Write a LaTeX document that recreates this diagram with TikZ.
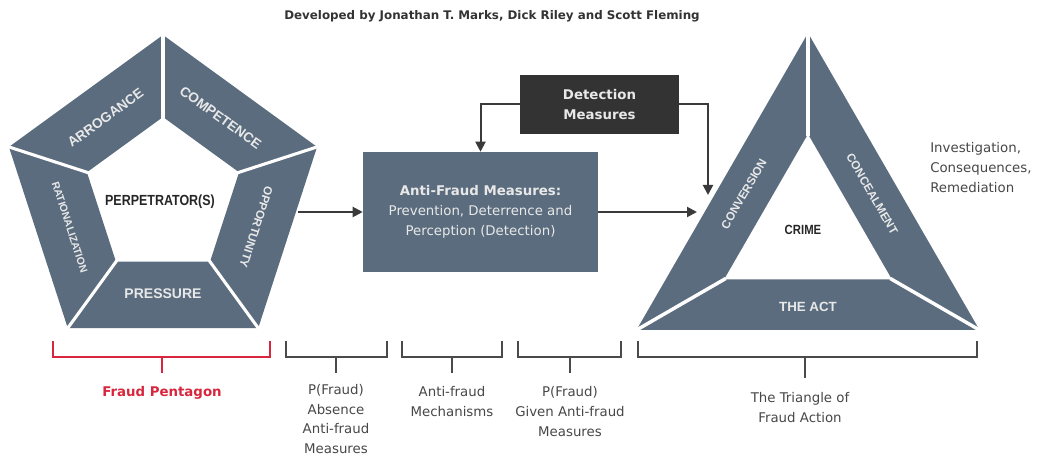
\documentclass[tikz,border=0pt]{standalone}
\usepackage{fontspec}
\setmainfont{DejaVu Sans}
\newfontfamily\segfont{Liberation Sans}
\newfontfamily\narrowfont{Liberation Sans}[FakeStretch=0.85]
\usetikzlibrary{arrows.meta,calc}
\definecolor{seg}{HTML}{5A6C7E}
\definecolor{darkbox}{HTML}{333333}
\definecolor{ltxt}{HTML}{E8E8E8}
\definecolor{gtxt}{HTML}{474747}
\definecolor{redc}{HTML}{D7263D}
\definecolor{linec}{HTML}{3A3A3A}
\definecolor{brkc}{HTML}{4A4A4A}
\begin{document}
\begin{tikzpicture}[x=0.75pt,y=0.75pt,
  seglabel/.style={text=ltxt,inner sep=0pt},
  segA/.style={seglabel,font=\segfont\bfseries\fontsize{10.3}{12}\selectfont},
  segB/.style={seglabel,font=\segfont\bfseries\fontsize{8.8}{10}\selectfont},
  segC/.style={seglabel,font=\segfont\bfseries\fontsize{7.9}{9}\selectfont},
  centerlabel/.style={text=black!85,inner sep=0pt,font=\narrowfont\bfseries\fontsize{11}{13}\selectfont},
  arr/.style={draw=linec,line width=1.5pt,-{Triangle[length=7.5pt,width=7.5pt]}},
  brk/.style={draw=brkc,line width=1.5pt},
  redbrk/.style={draw=redc,line width=1.5pt},
  body/.style={text=gtxt,align=center,inner sep=0pt,font=\fontsize{10}{15}\selectfont},
  gap/.style={draw=white,line width=2.3pt},
]
\useasboundingbox (0,0) rectangle (1040,457);

% title
\node[text=black!80,font=\bfseries\fontsize{8.9}{10}\selectfont] (title) at (492,441)
  {Developed by Jonathan T. Marks, Dick Riley and Scott Fleming};

% pentagon
\begin{scope}[shift={(163,260)}]
  \fill[seg,even odd rule] (90:162)--(162:162)--(234:162)--(306:162)--(18:162)--cycle
     (90:80)--(162:80)--(234:80)--(306:80)--(18:80)--cycle;
  \foreach \a in {90,162,234,306,18} \draw[gap] (\a:78)--(\a:166);
  \node[segA,rotate=36] (arrog) at (126:98) {ARROGANCE};
  \node[segA,rotate=-36] (compet) at (54:98) {COMPETENCE};
  \node[segB,rotate=-108] (oppor) at (-18:98) {OPPORTUNITY};
  \node[segC,rotate=-72] (ration) at (198:98) {RATIONALIZATION};
  \node[seglabel,font=\segfont\bfseries\fontsize{10.5}{12}\selectfont] (press) at (270:97) {PRESSURE};
  \node[centerlabel] (perp) at (-3,-5) {PERPETRATOR(S)};
  \coordinate (pentR) at (135,-15);
\end{scope}

% triangle
\begin{scope}[shift={(808,226)}]
  \fill[seg,even odd rule] (90:198)--(210:198)--(330:198)--cycle
     (90:97)--(210:97)--(330:97)--cycle;
  \foreach \a in {90,210,330} \draw[gap,line width=2.6pt] (\a:95)--(\a:203);
  \node[segB,rotate=60] (conv) at (150:74) {CONVERSION};
  \node[segB,rotate=-60] (conc) at (30:74) {CONCEALMENT};
  \node[seglabel,font=\segfont\bfseries\fontsize{10}{12}\selectfont] (act) at (270:76) {THE ACT};
  \node[centerlabel,font=\narrowfont\bfseries\fontsize{10}{12}\selectfont] (crime) at (-5,1) {CRIME};
  \coordinate (triL) at (-111,19);
  \coordinate (triT) at (-100,36);
\end{scope}

% boxes
\node[fill=darkbox,text=ltxt,align=center,minimum width=119.25pt,minimum height=44.25pt,
  font=\bfseries\fontsize{10}{15}\selectfont] (det) at (599.5,352.5) {Detection\\Measures};
\node[fill=seg,text=ltxt,align=center,minimum width=176.25pt,minimum height=90pt,
  font=\fontsize{10}{15}\selectfont] (afm) at (480.5,245)
  {\textbf{Anti-Fraud Measures:}\\Prevention, Deterrence and\\Perception (Detection)};

% arrows
\draw[arr] (pentR) -- (afm.west);
\draw[arr] (afm.east) -- (triL);
\draw[arr] (det.west) -| (afm.north);
\draw[arr] (det.east) -| (triT);

% right text
\node[body,align=left,anchor=west] (inv) at (930,289) {Investigation,\\Consequences,\\Remediation};

% brackets
\draw[redbrk] (53,116) |- (270,100) -- (270,116);
\coordinate (fpm) at (162,100);
\draw[redbrk] (fpm) -- ++(0,-16) coordinate (fpe);
\node[body,text=redc,font=\bfseries\fontsize{10}{15}\selectfont] (fplab) at (162,64) {Fraud Pentagon};

\draw[brk] (286,116) |- (387,100) -- (387,116);
\coordinate (b1m) at (336,100);
\draw[brk] (b1m) -- ++(0,-16);
\node[body,font=\fontsize{10}{14.6}\selectfont] (b1lab) at (336,38) {P(Fraud)\\Absence\\Anti-fraud\\Measures};

\draw[brk] (402,116) |- (502,100) -- (502,116);
\coordinate (b2m) at (452,100);
\draw[brk] (b2m) -- ++(0,-16);
\node[body] (b2lab) at (452,55) {Anti-fraud\\Mechanisms};

\draw[brk] (518,116) |- (621,100) -- (621,116);
\coordinate (b3m) at (570,100);
\draw[brk] (b3m) -- ++(0,-16);
\node[body] (b3lab) at (570,45) {P(Fraud)\\Given Anti-fraud\\Measures};

\draw[brk] (638,116) |- (977,100) -- (977,116);
\coordinate (b4m) at (805,100);
\draw[brk] (b4m) -- ++(0,-21);
\node[body] (b4lab) at (800,49) {The Triangle of\\Fraud Action};
\end{tikzpicture}
\end{document}
